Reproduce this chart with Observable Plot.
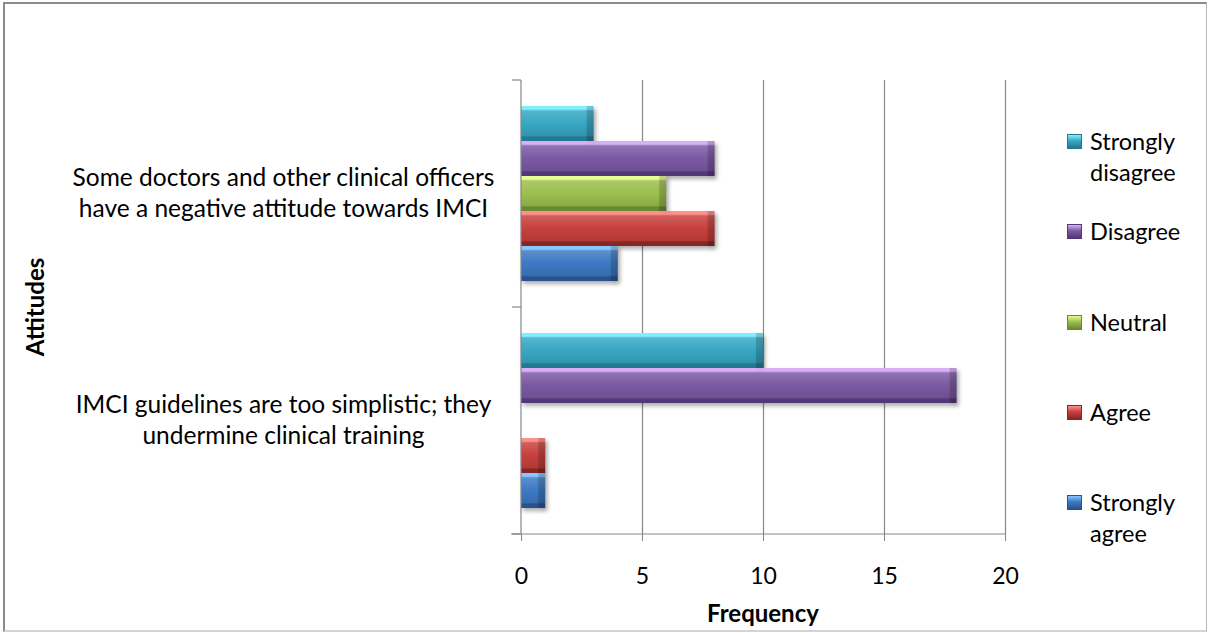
<!DOCTYPE html>
<html>
<head>
<meta charset="utf-8">
<script src="https://cdn.jsdelivr.net/npm/d3@7"></script>
<script src="https://cdn.jsdelivr.net/npm/@observablehq/plot@0.6"></script>
<style>
  html, body { margin: 0; padding: 0; background: #fff; }
  #chart { position: relative; width: 1208px; height: 633px; overflow: hidden;
           font-family: Lato, "Open Sans", sans-serif; color: #000; }
  #chart .box { position: absolute; left: 3px; top: 2px; width: 1204px; height: 630px; box-sizing: border-box;
                border-left: 2px solid #8c8c8c; border-top: 2px solid #8c8c8c;
                border-right: 1px solid #b8b8b8; border-bottom: 2px solid #d4d4d4; }
  #chart svg.plot { position: absolute; left: 0; top: 0; }
  #chart svg g[aria-label="bar"] { filter: drop-shadow(2px 3px 2px rgba(0,0,0,0.32)); }
  .axis-title { position: absolute; font-weight: bold; font-size: 24px; white-space: nowrap;
                transform: translate(-50%, -50%); }
  .axis-title.rot { transform: translate(-50%, -50%) rotate(-90deg); }
  .legend-item { position: absolute; left: 1067px; font-size: 23.5px; line-height: 31px; }
  .legend-item .swatch { position: absolute; left: 0; top: 8px; width: 15px; height: 15px; box-sizing: border-box; }
  .legend-item .text { display: block; margin-left: 23px; }
</style>
</head>
<body>
<div id="chart"><div class="box"></div></div>
<script>
// Survey responses on two attitudes towards IMCI
const attitudes = [
  "Some doctors and other clinical officers have a negative attitude towards IMCI",
  "IMCI guidelines are too simplistic; they undermine clinical training"
];
const attitudeLines = [
  ["Some doctors and other clinical officers", "have a negative attitude towards IMCI"],
  ["IMCI guidelines are too simplistic; they", "undermine clinical training"]
];
const responses = ["Strongly disagree", "Disagree", "Neutral", "Agree", "Strongly agree"];
const legendLines = [["Strongly", "disagree"], ["Disagree"], ["Neutral"], ["Agree"], ["Strongly", "agree"]];
const negativeAttitudeCounts = [3, 8, 6, 8, 4];
const tooSimplisticCounts = [10, 18, 0, 1, 1];
const xTicks = [0, 5, 10, 15, 20];
const xTitle = "Frequency";
const yTitle = "Attitudes";

// Bevelled bar shading: highlight, body and shadow tones per response
const palette = [
  {light: "#80f0ff", main: "#37a7c4", dark: "#24788f"},
  {light: "#d8b0f8", main: "#7b59a2", dark: "#533877"},
  {light: "#e6ff8e", main: "#9cbf4d", dark: "#688931"},
  {light: "#ff918c", main: "#c6403d", dark: "#872725"},
  {light: "#86c9ff", main: "#3d79c3", dark: "#29538d"}
];

const counts = [negativeAttitudeCounts, tooSimplisticCounts];
const rows = attitudes.flatMap((attitude, i) =>
  responses.map((response, j) => ({attitude, response, count: counts[i][j]})));

// Gradient definitions used as bar fills
const defs = d3.select("#chart").append("svg")
  .attr("width", 0).attr("height", 0).style("position", "absolute")
  .append("defs");
palette.forEach((c, i) => {
  const lighter = d3.interpolateRgb(c.main, "#ffffff")(0.16);
  const darker = d3.interpolateRgb(c.main, "#000000")(0.1);
  const g = defs.append("linearGradient").attr("id", `bar-fill-${i}`)
    .attr("x1", 0).attr("y1", 0).attr("x2", 0).attr("y2", 1);
  [[0, c.light], [0.09, c.light], [0.14, lighter], [0.5, c.main], [0.84, darker], [0.89, c.dark], [1, c.dark]]
    .forEach(([o, col]) => g.append("stop").attr("offset", o).attr("stop-color", col));
});

const plot = Plot.plot({
  width: 1208,
  height: 633,
  marginLeft: 521,
  marginRight: 203,
  marginTop: 79,
  marginBottom: 99,
  style: {fontFamily: "Lato, 'Open Sans', sans-serif", fontSize: "23px", background: "transparent", color: "#000"},
  x: {domain: [0, 20]},
  y: {domain: responses, paddingInner: 0, paddingOuter: 0.73, axis: null},
  fy: {domain: attitudes, padding: 0, axis: null},
  color: {domain: responses, range: responses.map((_, i) => `url(#bar-fill-${i})`)},
  marks: [
    Plot.gridX({ticks: xTicks.filter((t) => t > 0), stroke: "#878787", strokeOpacity: 1, strokeWidth: 1.2}),
    Plot.barX(rows, {fy: "attitude", y: "response", x: "count", fill: "response"}),
    // darker right-hand bevel of each bar
    Plot.barX(rows.filter((d) => d.count > 0), {
      fy: "attitude", y: "response", x1: "count", x2: "count", insetLeft: -7,
      fill: "#000", fillOpacity: 0.16, ariaLabel: "bar-end"
    }),
    Plot.text(attitudes, {
      fy: (d) => d, text: (d, i) => attitudeLines[i].join("\n"),
      frameAnchor: "left", dx: -238, dy: -2, textAnchor: "middle", lineAnchor: "middle",
      lineHeight: 1.26, fontSize: 24.5, fill: "#000"
    }),
    Plot.axisX({ticks: xTicks, tickSize: 7, tickPadding: 26, stroke: "#878787", fill: "#000",
                fontSize: 23, label: null})
  ]
});
plot.classList.add("plot");
document.getElementById("chart").appendChild(plot);

// Axis lines and category boundary ticks, from the plot's own scales
const sx = plot.scale("x"), sfy = plot.scale("fy");
const x0 = sx.apply(0), xMax = sx.apply(d3.max(xTicks));
const edges = Array.from(new Set(attitudes.flatMap((a) => [sfy.apply(a), sfy.apply(a) + sfy.bandwidth])));
const yTop = d3.min(edges), yBottom = d3.max(edges);
const axes = d3.select(plot).append("g").attr("stroke", "#878787").attr("stroke-width", 1.2);
axes.append("line").attr("x1", x0).attr("x2", x0).attr("y1", yTop).attr("y2", yBottom);
axes.append("line").attr("x1", x0 - 10).attr("x2", xMax).attr("y1", yBottom).attr("y2", yBottom);
edges.forEach((e) => axes.append("line").attr("x1", x0 - 9).attr("x2", x0).attr("y1", e).attr("y2", e));

// Axis titles
const chart = d3.select("#chart");
chart.append("div").attr("class", "axis-title").style("left", `${(x0 + xMax) / 2}px`).style("top", "612px").text(xTitle);
chart.append("div").attr("class", "axis-title rot").style("left", "34px").style("top", `${(yTop + yBottom) / 2}px`).text(yTitle);

// Legend
responses.forEach((r, i) => {
  const c = palette[i];
  const item = chart.append("div").attr("class", "legend-item").style("top", `${126 + i * 90.3}px`);
  item.append("span").attr("class", "swatch")
    .style("background", `linear-gradient(to bottom, ${c.light} 0%, ${c.main} 45%, ${c.dark} 100%)`)
    .style("border", `1px solid ${c.dark}`);
  item.append("span").attr("class", "text").html(legendLines[i].join("<br>"));
});
</script>
</body>
</html>
